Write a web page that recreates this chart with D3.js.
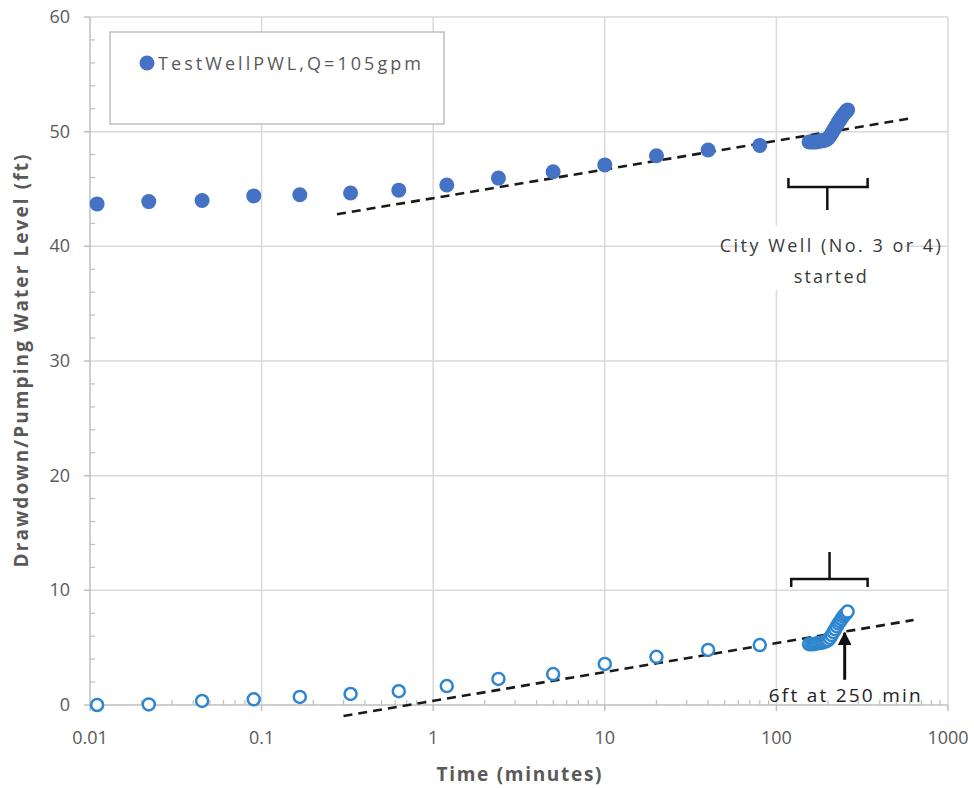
<!DOCTYPE html>
<html><head><meta charset="utf-8">
<script src="https://cdn.jsdelivr.net/npm/d3@7/dist/d3.min.js"></script>
<style>body{margin:0;background:#fff}svg{display:block}</style>
</head><body>
<svg id="chart" width="974" height="788"></svg>
<script>
// ---- data ----
const earlyTimes = [0.011, 0.022, 0.045, 0.09, 0.167, 0.33, 0.63, 1.2, 2.4, 5, 10, 20, 40, 80];
const clusterTimes = [155,160,165,170,175,180,185,190,195,200,205,210,215,220,225,230,235,240,245,250,255,260];
const pwlEarly = [43.7, 43.9, 44.0, 44.4, 44.5, 44.65, 44.9, 45.35, 45.95, 46.5, 47.1, 47.9, 48.4, 48.8];
const pwlCluster = [49.1,49.1,49.1,49.1,49.15,49.2,49.2,49.25,49.3,49.4,49.6,49.85,50.1,50.35,50.6,50.85,51.05,51.25,51.45,51.6,51.75,51.9];
const ddEarly = [0.0, 0.05, 0.35, 0.5, 0.7, 0.96, 1.2, 1.65, 2.27, 2.7, 3.58, 4.2, 4.8, 5.23];
const ddCluster = [5.3,5.3,5.3,5.35,5.4,5.4,5.45,5.5,5.55,5.65,5.85,6.1,6.35,6.6,6.85,7.1,7.3,7.5,7.7,7.85,8.0,8.15];
const pwlTrend = [[0.275, 42.8], [600, 51.15]];
const ddTrend = [[0.30, -0.96], [630, 7.41]];
const xTicks = [0.01, 0.1, 1, 10, 100, 1000];
const xTickLabels = ["0.01", "0.1", "1", "10", "100", "1000"];
const yTicks = [0, 10, 20, 30, 40, 50, 60];
const legendLabel = "TestWellPWL,Q=105gpm";
const xTitle = "Time (minutes)";
const yTitle = "Drawdown/Pumping Water Level (ft)";
const noteCity = ["City Well (No. 3 or 4)", "started"];
const noteSix = "6ft at 250 min";

// ---- chart ----
const svg = d3.select("#chart");
const x = d3.scaleLog().domain([0.01, 1000]).range([90, 948]);
const y = d3.scaleLinear().domain([0, 60]).range([705, 17]);
const gray = "#595959";
const tickFont = "'Open Sans', Lato, sans-serif";

// gridlines
svg.append("g").selectAll("line").data(yTicks.filter(d => d > 0)).join("line")
  .attr("x1", x(0.01)).attr("x2", x(1000)).attr("y1", d => y(d)).attr("y2", d => y(d))
  .attr("stroke", "#d9d9d9").attr("stroke-width", 1.5);
svg.append("g").selectAll("line").data(xTicks.filter(d => d > 0.01)).join("line")
  .attr("x1", d => x(d)).attr("x2", d => x(d)).attr("y1", y(0)).attr("y2", y(60))
  .attr("stroke", "#d9d9d9").attr("stroke-width", 1.5);

// axes lines
svg.append("line").attr("x1", x(0.01)).attr("x2", x(0.01)).attr("y1", y(0)).attr("y2", y(60))
  .attr("stroke", "#bfbfbf").attr("stroke-width", 1.5);
svg.append("line").attr("x1", x(0.01)).attr("x2", x(1000)).attr("y1", y(0)).attr("y2", y(0))
  .attr("stroke", "#bfbfbf").attr("stroke-width", 1.5);

// minor ticks
const yMinor = d3.range(2, 60, 2).filter(d => d % 10 !== 0);
svg.append("g").selectAll("line").data(yMinor).join("line")
  .attr("x1", x(0.01)).attr("x2", x(0.01) + 5).attr("y1", d => y(d)).attr("y2", d => y(d))
  .attr("stroke", "#bfbfbf").attr("stroke-width", 1.2);
const xMinor = [];
[0.01, 0.1, 1, 10, 100].forEach(dec => { for (let k = 2; k <= 9; k++) xMinor.push(dec * k); });
svg.append("g").selectAll("line").data(xMinor).join("line")
  .attr("x1", d => x(d)).attr("x2", d => x(d)).attr("y1", y(0)).attr("y2", y(0) - 5)
  .attr("stroke", "#bfbfbf").attr("stroke-width", 1.2);
// major ticks (outside)
svg.append("g").selectAll("line").data(yTicks).join("line")
  .attr("x1", x(0.01) - 6).attr("x2", x(0.01)).attr("y1", d => y(d)).attr("y2", d => y(d))
  .attr("stroke", "#bfbfbf").attr("stroke-width", 1.5);
svg.append("g").selectAll("line").data(xTicks).join("line")
  .attr("x1", d => x(d)).attr("x2", d => x(d)).attr("y1", y(0)).attr("y2", y(0) + 6)
  .attr("stroke", "#bfbfbf").attr("stroke-width", 1.5);

// tick labels
svg.append("g").selectAll("text").data(yTicks).join("text")
  .attr("x", 70).attr("y", d => y(d) + 6).attr("text-anchor", "end")
  .attr("font-family", tickFont).attr("font-size", 18).attr("fill", gray).text(d => d);
svg.append("g").selectAll("text").data(xTicks).join("text")
  .attr("x", d => x(d)).attr("y", 744).attr("text-anchor", "middle")
  .attr("font-family", tickFont).attr("font-size", 18).attr("fill", gray)
  .text((d, i) => xTickLabels[i]);

// axis titles
svg.append("text").attr("x", 519).attr("y", 781).attr("text-anchor", "middle")
  .attr("font-family", tickFont).attr("font-weight", "bold").attr("font-size", 19)
  .attr("fill", gray).attr("textLength", 165).text(xTitle);
svg.append("text").attr("transform", "translate(28,361) rotate(-90)").attr("text-anchor", "middle")
  .attr("font-family", tickFont).attr("font-weight", "bold").attr("font-size", 19)
  .attr("fill", gray).attr("textLength", 413).text(yTitle);

// trend lines
const line = d3.line().x(d => x(d[0])).y(d => y(d[1]));
[pwlTrend, ddTrend].forEach(t => {
  svg.append("path").attr("d", line(t)).attr("fill", "none").attr("stroke", "#1a1a1a")
    .attr("stroke-width", 2.6).attr("stroke-dasharray", "9,6");
});

// data points
const pwlAll = earlyTimes.map((t, i) => [t, pwlEarly[i]]).concat(clusterTimes.map((t, i) => [t, pwlCluster[i]]));
const ddAll = earlyTimes.map((t, i) => [t, ddEarly[i]]).concat(clusterTimes.map((t, i) => [t, ddCluster[i]]));
svg.append("g").selectAll("circle").data(pwlAll).join("circle")
  .attr("cx", d => x(d[0])).attr("cy", d => y(d[1])).attr("r", 7.5).attr("fill", "#4472c4");
svg.append("g").selectAll("circle").data(ddAll).join("circle")
  .attr("cx", d => x(d[0])).attr("cy", d => y(d[1])).attr("r", 6).attr("fill", "#fff")
  .attr("stroke", "#2e86d0").attr("stroke-width", 2.5);

// annotations: top bracket
const bk = svg.append("g").attr("fill", "none").attr("stroke", "#111").attr("stroke-width", 2.5);
bk.append("path").attr("d", `M${x(117.5)},${y(45.96)} L${x(117.5)},${y(45.17)} L${x(340)},${y(45.17)} L${x(340)},${y(45.96)}`);
bk.append("line").attr("x1", x(198)).attr("x2", x(198)).attr("y1", y(45.17)).attr("y2", y(43.17));
// bottom bracket
bk.append("path").attr("d", `M${x(122)},${y(10.29)} L${x(122)},${y(10.99)} L${x(340)},${y(10.99)} L${x(340)},${y(10.29)}`);
bk.append("line").attr("x1", x(204)).attr("x2", x(204)).attr("y1", y(10.99)).attr("y2", y(13.34));

// City well label with white box
svg.append("rect").attr("x", x(75)).attr("y", y(41.8)).attr("width", x(560) - x(75)).attr("height", y(36.2) - y(41.8)).attr("fill", "#fff");
svg.append("g").selectAll("text").data(noteCity).join("text")
  .attr("x", x(206)).attr("y", (d, i) => y(i === 0 ? 39.5 : 36.8)).attr("text-anchor", "middle")
  .attr("font-family", tickFont).attr("font-size", 18).attr("fill", "#3a3a3a")
  .attr("textLength", (d, i) => i === 0 ? 221 : 73).text(d => d);

// arrow for 6ft
svg.append("defs").append("marker").attr("id", "ah").attr("viewBox", "0 0 10 10").attr("refX", 9).attr("refY", 5)
  .attr("markerWidth", 4.5).attr("markerHeight", 4.5).attr("orient", "auto")
  .append("path").attr("d", "M0,0 L10,5 L0,10 z").attr("fill", "#111");
svg.append("line").attr("x1", x(250)).attr("x2", x(250)).attr("y1", y(2.2)).attr("y2", y(6.3))
  .attr("stroke", "#111").attr("stroke-width", 3).attr("marker-end", "url(#ah)");
svg.append("text").attr("x", x(250)).attr("y", y(0.26)).attr("text-anchor", "middle")
  .attr("font-family", tickFont).attr("font-size", 19).attr("fill", "#222")
  .attr("textLength", 152).text(noteSix);

// legend
svg.append("rect").attr("x", 110).attr("y", 32).attr("width", 334).attr("height", 92)
  .attr("fill", "#fff").attr("stroke", "#bfbfbf").attr("stroke-width", 1.5);
svg.append("circle").attr("cx", 147).attr("cy", 63).attr("r", 7.5).attr("fill", "#4472c4");
svg.append("text").attr("x", 158).attr("y", 70).attr("font-family", tickFont).attr("font-size", 18)
  .attr("fill", gray).attr("textLength", 263).text(legendLabel);
</script>
</body></html>
